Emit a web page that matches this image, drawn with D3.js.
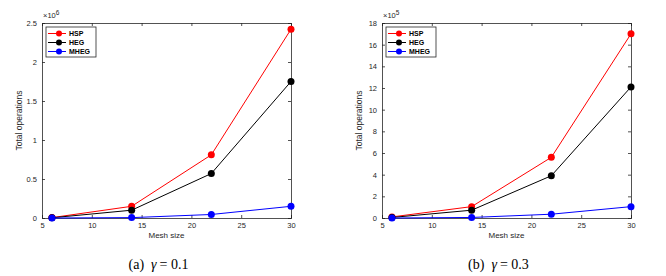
<!DOCTYPE html>
<html>
<head>
<meta charset="utf-8">
<script src="https://cdn.jsdelivr.net/npm/d3@7"></script>
<style>
  body { margin: 0; background: #fff; }
  svg { display: block; }
  .tick text { font-family: Arial, "Liberation Sans", sans-serif; font-size: 7.5px; fill: #262626; }
</style>
</head>
<body>
<script>
const meshSize = [6, 14, 22, 30]
const seriesNames = ['HSP', 'HEG', 'MHEG']
const seriesColors = ['#ff0000', '#000000', '#0000ff']

// gamma = 0.1, values x 10^6
const hspA = [0.005, 0.15, 0.81, 2.42]
const hegA = [0.003, 0.10, 0.57, 1.75]
const mhegA = [0.0, 0.005, 0.045, 0.15]

// gamma = 0.3, values x 10^5
const hspB = [0.1, 1.05, 5.6, 17.0]
const hegB = [0.05, 0.72, 3.9, 12.1]
const mhegB = [0.0, 0.05, 0.35, 1.05]

const xTicks = [5, 10, 15, 20, 25, 30]
const yTicksA = [0, 0.5, 1, 1.5, 2, 2.5]
const yTicksB = [0, 2, 4, 6, 8, 10, 12, 14, 16, 18]

const svg = d3.select('body').append('svg')
  .attr('width', 666)
  .attr('height', 276)

function panel(left, yMax, yTicks, exponent, series, caption, gammaVal) {
  const margin = {top: 23, left: left}
  const width = 249, height = 195
  const g = svg.append('g').attr('transform', `translate(${margin.left}, ${margin.top})`)

  const x = d3.scaleLinear().domain([5, 30]).range([0, width])
  const y = d3.scaleLinear().domain([0, yMax]).range([height, 0])

  // ticks inside, MATLAB style
  g.append('g')
    .attr('transform', `translate(0, ${height})`)
    .call(d3.axisBottom(x).tickValues(xTicks).tickSize(-3).tickPadding(5).tickFormat(d3.format('d')))
  g.append('g')
    .call(d3.axisTop(x).tickValues(xTicks).tickSize(-3).tickFormat(''))
  g.append('g')
    .call(d3.axisLeft(y).tickValues(yTicks).tickSize(-3).tickPadding(5).tickFormat(d => String(d)))
  g.append('g')
    .attr('transform', `translate(${width}, 0)`)
    .call(d3.axisRight(y).tickValues(yTicks).tickSize(-3).tickFormat(''))
  g.selectAll('.domain').attr('stroke', '#262626').attr('stroke-width', 0.8)
  g.selectAll('.tick line').attr('stroke', '#262626').attr('stroke-width', 0.8)

  const line = d3.line().x((d, i) => x(meshSize[i])).y(d => y(d))
  series.forEach((s, k) => {
    g.append('path')
      .datum(s)
      .attr('fill', 'none')
      .attr('stroke', seriesColors[k])
      .attr('stroke-width', 1)
      .attr('d', line)
    g.selectAll(null).data(s).enter()
      .append('circle')
      .attr('cx', (d, i) => x(meshSize[i]))
      .attr('cy', d => y(d))
      .attr('r', 3.5)
      .attr('fill', seriesColors[k])
  })

  // exponent label
  const ex = g.append('text')
    .attr('x', 1)
    .attr('y', -5)
    .attr('font-family', 'Arial, "Liberation Sans", sans-serif')
    .attr('font-size', 7.5)
    .attr('fill', '#262626')
  ex.append('tspan').text('×10')
  ex.append('tspan').attr('dy', -3).attr('font-size', 6.5).text(exponent)

  // legend
  const leg = g.append('g').attr('transform', 'translate(4, 4)')
  leg.append('rect')
    .attr('width', 50).attr('height', 30)
    .attr('fill', '#fff').attr('stroke', '#262626').attr('stroke-width', 0.8)
  seriesNames.forEach((name, k) => {
    const ly = 6.5 + k * 9
    leg.append('line')
      .attr('x1', 2).attr('x2', 20).attr('y1', ly).attr('y2', ly)
      .attr('stroke', seriesColors[k]).attr('stroke-width', 1)
    leg.append('circle').attr('cx', 13).attr('cy', ly).attr('r', 3).attr('fill', seriesColors[k])
    leg.append('text')
      .attr('x', 23).attr('y', ly + 2.5)
      .attr('font-family', 'Arial, "Liberation Sans", sans-serif')
      .attr('font-size', 7).attr('font-weight', 'bold')
      .attr('fill', '#000')
      .text(name)
  })

  // axis labels
  g.append('text')
    .attr('x', width / 2).attr('y', height + 20)
    .attr('text-anchor', 'middle')
    .attr('font-family', 'Arial, "Liberation Sans", sans-serif')
    .attr('font-size', 8).attr('fill', '#262626')
    .text('Mesh size')
  g.append('text')
    .attr('transform', `translate(-20, ${height / 2}) rotate(-90)`)
    .attr('text-anchor', 'middle')
    .attr('font-family', 'Arial, "Liberation Sans", sans-serif')
    .attr('font-size', 8.5).attr('fill', '#262626')
    .text('Total operations')

  // caption
  const cap = g.append('text')
    .attr('x', width / 2 - 8).attr('y', height + 51)
    .attr('text-anchor', 'middle')
    .attr('font-family', '"Liberation Serif", "Times New Roman", serif')
    .attr('font-size', 14).attr('fill', '#000')
  cap.append('tspan').text(caption)
  cap.append('tspan').attr('dx', 7).attr('font-style', 'italic').text('γ')
  cap.append('tspan').attr('dx', 3).text('= ' + gammaVal)
}

panel(42, 2.5, yTicksA, '6', [hspA, hegA, mhegA], '(a)', '0.1')
panel(382, 18, yTicksB, '5', [hspB, hegB, mhegB], '(b)', '0.3')
</script>
</body>
</html>
